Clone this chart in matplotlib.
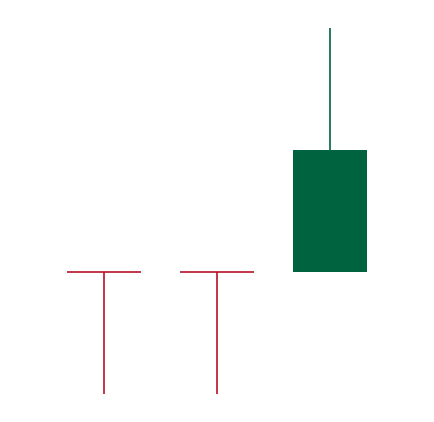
import matplotlib
matplotlib.use("Agg")
import matplotlib.pyplot as plt

# candle data (arbitrary price units)
idx = [0, 1, 2]
opens = [10, 10, 10]
highs = [10, 10, 30]
lows = [0, 0, 10]
closes = [10, 10, 20]

UP = "#006340"
DOWN = "#b8122a"
WIDTH = 0.655

fig = plt.figure(figsize=(4.34, 4.22), dpi=100)
ax = fig.add_axes([0, 0, 1, 1])

for i, o, h, l, c in zip(idx, opens, highs, lows, closes):
    color = UP if c > o else DOWN
    ax.vlines(i, l, h, color=color, linewidth=1.2, zorder=1)
    if c == o:
        ax.hlines(o, i - WIDTH / 2, i + WIDTH / 2, color=color, linewidth=1.2, zorder=2)
    else:
        ax.bar(i, abs(c - o), bottom=min(o, c), width=WIDTH, color=color,
               edgecolor=color, linewidth=0, zorder=2)

ax.set_xlim(-0.92, 2.92)
ax.set_ylim(-2.30, 32.29)
ax.axis("off")

fig.savefig("out.png", dpi=100, facecolor="white")
